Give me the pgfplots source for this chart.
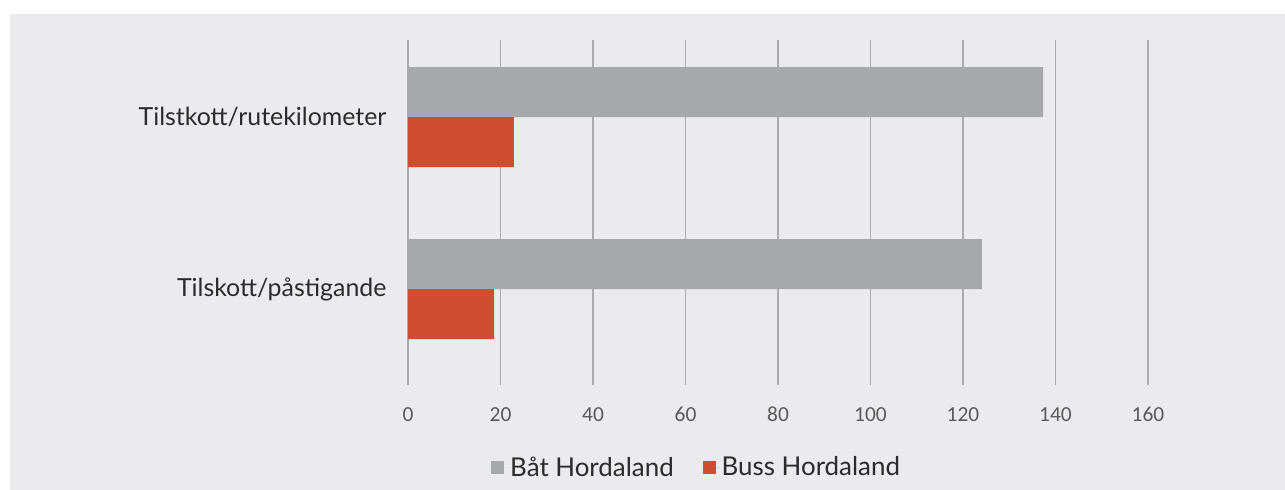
\documentclass[border=0pt]{standalone}
\usepackage{fontspec}
\setmainfont{Lato}
\newfontfamily\tickfont{Carlito}
\usepackage{pgfplots}
\pgfplotsset{compat=1.18}
\definecolor{bg}{HTML}{EBEBED}
\definecolor{batgray}{HTML}{A7A8AB}
\definecolor{bussred}{HTML}{D14D32}
\definecolor{gridc}{HTML}{ABABAB}
\definecolor{tickc}{HTML}{595959}
\definecolor{labc}{HTML}{2B2B2B}
\begin{document}
\begin{tikzpicture}[x=1bp,y=1bp]
\fill[white] (0,0) rectangle (1285,490);
\fill[bg] (10,0) rectangle (1285,476);
\useasboundingbox (0,0) rectangle (1285,490);
\begin{axis}[
  at={(408bp,105bp)}, anchor=south west,
  scale only axis, width=740bp, height=345bp,
  xmin=0, xmax=160, ymin=-0.558, ymax=1.448,
  xtick={0,20,...,160}, ytick={0,1},
  yticklabels={Tilskott/påstigande, Tilstkott/rutekilometer},
  axis line style={draw=none},
  major tick length=0pt,
  xmajorgrids, grid style={draw=gridc, line width=1.5bp},
  /pgf/number format/assume math mode=true,
  xticklabel style={font=\tickfont\fontsize{21.5}{24}\selectfont, text=tickc,
    text height=14bp, text depth=0bp, yshift=-19bp},
  yticklabel style={font=\fontsize{25}{28}\selectfont, text=labc, xshift=-18bp},
  xbar, bar width=50bp,
  legend style={at={(0.39,-0.238)}, anchor=center, draw=none, fill=none,
    legend columns=2, font=\fontsize{26}{28}\selectfont, text=labc,
    /tikz/every even column/.append style={column sep=27bp}},
]
\addplot[fill=batgray, draw=none, bar shift=25bp,
  legend image code/.code={\path (0bp,0bp) -- (17bp,0bp);\fill[batgray] (0bp,-6.5bp) rectangle (13bp,6.5bp);}]
  coordinates {(137.3,1) (124.1,0)};
\addplot[fill=bussred, draw=none, bar shift=-25bp,
  legend image code/.code={\path (0bp,0bp) -- (17bp,0bp);\fill[bussred] (0bp,-6.5bp) rectangle (13bp,6.5bp);}]
  coordinates {(22.9,1) (18.6,0)};
\legend{Båt Hordaland, Buss Hordaland}
\end{axis}
\end{tikzpicture}
\end{document}
